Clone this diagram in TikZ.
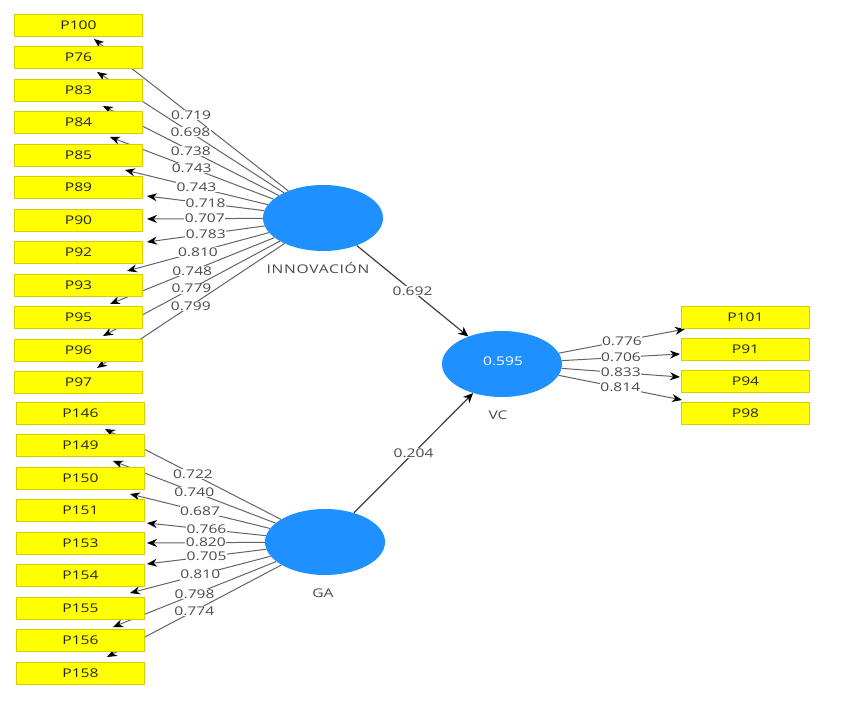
\documentclass[tikz,border=0pt]{standalone}
\usepackage{fontspec}
\setmainfont{Open Sans}[FakeStretch=1.3]
\usetikzlibrary{shapes.geometric,arrows.meta}
\definecolor{lvblue}{RGB}{30,144,255}
\definecolor{boxyel}{RGB}{255,255,0}
\definecolor{boxedge}{RGB}{215,205,0}
\definecolor{lngray}{RGB}{100,100,100}
\definecolor{txtgray}{RGB}{75,75,75}
\tikzset{
  ind/.style={rectangle,fill=boxyel,draw=boxedge,line width=0.6pt,minimum width=128pt,minimum height=22pt,inner sep=0pt,font=\fontsize{12}{12}\selectfont,text=black!85},
  lv/.style={ellipse,fill=lvblue,draw=none,minimum width=120pt,minimum height=66pt,inner sep=0pt},
  lvname/.style={font=\fontsize{12}{12}\selectfont,text=txtgray},
  load/.style={draw=lngray,line width=1pt,-{Stealth[length=10pt,width=8pt,color=black]}},
  lab/.style={fill=white,inner sep=0.5pt,font=\fontsize{12}{12}\selectfont,text=txtgray},
  path/.style={draw=black!75,line width=1.2pt,-{Stealth[length=10pt,width=9pt,color=black]}}
}
\begin{document}
\begin{tikzpicture}[x=1pt,y=-1pt]
\useasboundingbox[fill=white] (0,0) rectangle (847,706);
% latent variables
\node[lv] (inn) at (323,218) {};
\node[lv] (vc) at (502,364) {};
\node[lv] (ga) at (325,542) {};
\node[text=white,font=\fontsize{12}{12}\selectfont] (r2) at (503,361) {0.595};
\node[lvname] (innl) at (318,268) {\addfontfeature{LetterSpace=6}INNOVACIÓN};
\node[lvname] (vcl) at (498,415) {VC};
\node[lvname] (gal) at (323,593) {GA};
% arrow tip coordinates (INNOVACION)
\coordinate (a1) at (94,39);
\coordinate (a2) at (97,72);
\coordinate (a3) at (103,106);
\coordinate (a4) at (110,137);
\coordinate (a5) at (125,170);
\coordinate (a6) at (147,196);
\coordinate (a7) at (147,219);
\coordinate (a8) at (147,242);
\coordinate (a9) at (127,271);
\coordinate (a10) at (110,304);
\coordinate (a11) at (103,336);
\coordinate (a12) at (97,368);
% GA
\coordinate (g1) at (105,429);
\coordinate (g2) at (113,461);
\coordinate (g3) at (130,494);
\coordinate (g4) at (147,523);
\coordinate (g5) at (147,543);
\coordinate (g6) at (147,564);
\coordinate (g7) at (130,593);
\coordinate (g8) at (113,627);
\coordinate (g9) at (107,657);
% VC
\coordinate (v1) at (685,329);
\coordinate (v2) at (680,354);
\coordinate (v3) at (680,377);
\coordinate (v4) at (682,400);
% loadings
\draw[load] (inn) -- node[lab,midway] {0.719} (a1);
\draw[load] (inn) -- node[lab,midway] {0.698} (a2);
\draw[load] (inn) -- node[lab,midway] {0.738} (a3);
\draw[load] (inn) -- node[lab,midway] {0.743} (a4);
\draw[load] (inn) -- node[lab,midway] {0.743} (a5);
\draw[load] (inn) -- node[lab,midway] {0.718} (a6);
\draw[load] (inn) -- node[lab,midway] {0.707} (a7);
\draw[load] (inn) -- node[lab,midway] {0.783} (a8);
\draw[load] (inn) -- node[lab,midway] {0.810} (a9);
\draw[load] (inn) -- node[lab,midway] {0.748} (a10);
\draw[load] (inn) -- node[lab,midway] {0.779} (a11);
\draw[load] (inn) -- node[lab,midway] {0.799} (a12);
\draw[load] (ga) -- node[lab,midway] {0.722} (g1);
\draw[load] (ga) -- node[lab,midway] {0.740} (g2);
\draw[load] (ga) -- node[lab,midway] {0.687} (g3);
\draw[load] (ga) -- node[lab,midway] {0.766} (g4);
\draw[load] (ga) -- node[lab,midway] {0.820} (g5);
\draw[load] (ga) -- node[lab,midway] {0.705} (g6);
\draw[load] (ga) -- node[lab,midway] {0.810} (g7);
\draw[load] (ga) -- node[lab,midway] {0.798} (g8);
\draw[load] (ga) -- node[lab,midway] {0.774} (g9);
\draw[load] (vc) -- node[lab,midway] {0.776} (v1);
\draw[load] (vc) -- node[lab,midway] {0.706} (v2);
\draw[load] (vc) -- node[lab,midway] {0.833} (v3);
\draw[load] (vc) -- node[lab,midway] {0.814} (v4);
% structural paths
\draw[path] (inn) -- node[lab,midway] {0.692} (vc);
\draw[path] (ga) -- node[lab,midway] {0.204} (vc);
% indicator boxes
\node[ind] (p100) at (78.5,25) {P100};
\node[ind] (p76) at (78.5,57.5) {P76};
\node[ind] (p83) at (78.5,90) {P83};
\node[ind] (p84) at (78.5,122.5) {P84};
\node[ind] (p85) at (78.5,155) {P85};
\node[ind] (p89) at (78.5,187.5) {P89};
\node[ind] (p90) at (78.5,220) {P90};
\node[ind] (p92) at (78.5,252.5) {P92};
\node[ind] (p93) at (78.5,285) {P93};
\node[ind] (p95) at (78.5,317.5) {P95};
\node[ind] (p96) at (78.5,350) {P96};
\node[ind] (p97) at (78.5,382.5) {P97};
\node[ind] (p146) at (80.5,413) {P146};
\node[ind] (p149) at (80.5,445.5) {P149};
\node[ind] (p150) at (80.5,478) {P150};
\node[ind] (p151) at (80.5,510.5) {P151};
\node[ind] (p153) at (80.5,543) {P153};
\node[ind] (p154) at (80.5,575.5) {P154};
\node[ind] (p155) at (80.5,608) {P155};
\node[ind] (p156) at (80.5,640.5) {P156};
\node[ind] (p158) at (80.5,673) {P158};
\node[ind] (p101) at (745.5,317) {P101};
\node[ind] (p91) at (745.5,349) {P91};
\node[ind] (p94) at (745.5,381) {P94};
\node[ind] (p98) at (745.5,413) {P98};
\end{tikzpicture}
\end{document}
